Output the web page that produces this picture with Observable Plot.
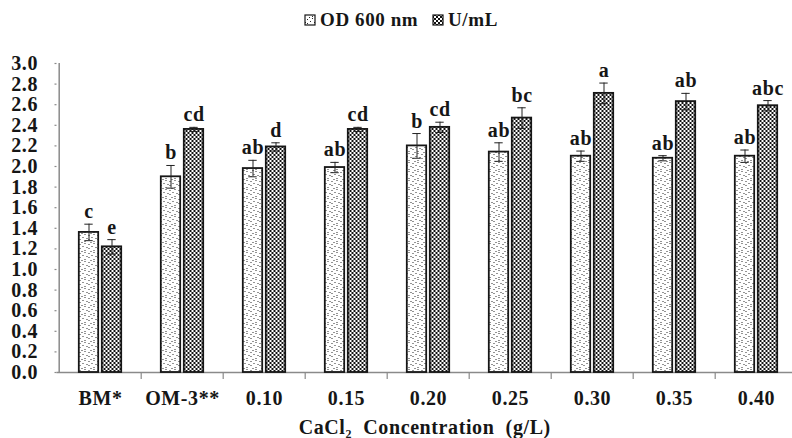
<!DOCTYPE html>
<html>
<head>
<meta charset="utf-8">
<script src="https://cdn.jsdelivr.net/npm/d3@7"></script>
<script src="https://cdn.jsdelivr.net/npm/@observablehq/plot@0.6"></script>
<style>
  html, body { margin: 0; padding: 0; background: #fff; }
  #chart { width: 792px; height: 438px; }
</style>
</head>
<body>
<div id="chart"></div>
<script>
const categories = ["BM*", "OM-3**", "0.10", "0.15", "0.20", "0.25", "0.30", "0.35", "0.40"];
const seriesNames = ["OD 600 nm", "U/mL"];
const odValues = [1.36, 1.90, 1.98, 1.99, 2.20, 2.14, 2.10, 2.08, 2.10];
const odErrors = [0.08, 0.11, 0.08, 0.05, 0.12, 0.09, 0.05, 0.025, 0.06];
const odLetters = ["c", "b", "ab", "ab", "b", "ab", "ab", "ab", "ab"];
const uValues = [1.22, 2.36, 2.19, 2.36, 2.38, 2.47, 2.71, 2.63, 2.59];
const uErrors = [0.07, 0.02, 0.04, 0.02, 0.05, 0.10, 0.10, 0.08, 0.05];
const uLetters = ["e", "cd", "d", "cd", "cd", "bc", "a", "ab", "abc"];
const yTicks = [0, 0.2, 0.4, 0.6, 0.8, 1.0, 1.2, 1.4, 1.6, 1.8, 2.0, 2.2, 2.4, 2.6, 2.8, 3.0];

const od = categories.map((c, i) => ({cat: c, v: odValues[i], e: odErrors[i], letter: odLetters[i]}));
const um = categories.map((c, i) => ({cat: c, v: uValues[i], e: uErrors[i], letter: uLetters[i]}));

const W = 792, H = 438;
const xRange = [56.5, 800];
const step = (xRange[1] - xRange[0]) / categories.length;
const barW = 20, gap = 3;
const off = (barW + gap) / 2;
const inset = (step - barW) / 2;
const capInset = (step - 9) / 2;
const fills = ["url(#pat-dots)", "url(#pat-check)"];
const axisGray = "#8a8a8a";
const ink = "#161616";
const font = "'Liberation Serif', 'Times New Roman', serif";

function seriesMarks(data, dx, fill) {
  return [
    Plot.barY(data, {x: "cat", y: "v", fill, stroke: ink, strokeWidth: 1.8, insetLeft: inset, insetRight: inset, dx}),
    Plot.ruleX(data, {x: "cat", y1: d => d.v - d.e, y2: d => d.v + d.e, dx, stroke: "#222", strokeWidth: 1}),
    Plot.tickY(data, {x: "cat", y: d => d.v + d.e, dx, insetLeft: capInset, insetRight: capInset, stroke: "#222", strokeWidth: 1}),
    Plot.tickY(data, {x: "cat", y: d => d.v - d.e, dx, insetLeft: capInset, insetRight: capInset, stroke: "#222", strokeWidth: 1}),
    Plot.text(data, {x: "cat", y: d => d.v + d.e, text: "letter", dx, dy: -6, lineAnchor: "bottom", fontSize: 20, fontWeight: "bold", fill: ink})
  ];
}

const plot = Plot.plot({
  width: W,
  height: H,
  marginTop: 63,
  marginBottom: 66,
  marginLeft: 56.5,
  marginRight: 0,
  style: {fontFamily: font, fontWeight: "bold", fontSize: "20px", color: ink, background: "white", letterSpacing: "0.6px"},
  x: {domain: categories, range: xRange, padding: 0},
  y: {domain: [0, 3], ticks: yTicks},
  marks: [
    Plot.axisY({ticks: yTicks, tickSize: 0, tickPadding: 19, tickFormat: d => d.toFixed(1), label: null, fontSize: 20, fill: ink}),
    Plot.ruleY(yTicks, {y: d => d, stroke: axisGray, strokeWidth: 1.2, insetRight: (xRange[1] - xRange[0]) - 6}),
    Plot.ruleX([categories[0]], {x: d => d, y1: 0, y2: 3, dx: -step / 2, stroke: axisGray, strokeWidth: 1.5}),
    Plot.ruleY([0], {stroke: axisGray, strokeWidth: 1.5}),
    Plot.ruleX(categories.slice(1), {x: d => d, y1: 0, y2: 0, dx: -step / 2, insetBottom: -7, stroke: axisGray, strokeWidth: 1.2}),
    ...seriesMarks(od, -off, fills[0]),
    ...seriesMarks(um, off, fills[1]),
    Plot.axisX({tickSize: 0, tickPadding: 18, fontSize: 20, fill: ink, label: "CaCl₂  Concentration  (g/L)", labelAnchor: "center", labelArrow: "none", labelOffset: 61})
  ]
});

const svg = d3.select(plot);
const defs = svg.insert("defs", ":first-child");
const pd = defs.append("pattern").attr("id", "pat-dots").attr("patternUnits", "userSpaceOnUse").attr("width", 9).attr("height", 9);
pd.append("rect").attr("width", 9).attr("height", 9).attr("fill", "white");
[[1,1],[6,0],[4,3],[8,4],[1,5],[6,7],[3,8]].forEach(([x, y]) => pd.append("rect").attr("x", x).attr("y", y).attr("width", 1).attr("height", 1).attr("fill", "#2a2a2a"));
const pc = defs.append("pattern").attr("id", "pat-check").attr("patternUnits", "userSpaceOnUse").attr("width", 4).attr("height", 4);
pc.append("rect").attr("width", 4).attr("height", 4).attr("fill", "white");
pc.append("rect").attr("width", 2).attr("height", 2).attr("fill", "#111");
pc.append("rect").attr("x", 2).attr("y", 2).attr("width", 2).attr("height", 2).attr("fill", "#111");

// legend
const lg = svg.append("g").attr("font-family", font).attr("font-weight", "bold").attr("font-size", 19).attr("fill", ink).attr("text-anchor", "start");
const items = [{name: seriesNames[0], fill: fills[0], x: 305}, {name: seriesNames[1], fill: fills[1], x: 433}];
items.forEach(it => {
  lg.append("rect").attr("x", it.x).attr("y", 15).attr("width", 10).attr("height", 10).attr("fill", it.fill).attr("stroke", ink).attr("stroke-width", 1.2);
  lg.append("text").attr("x", it.x + 15).attr("y", 26).attr("text-anchor", "start").text(it.name);
});

document.getElementById("chart").appendChild(plot);
</script>
</body>
</html>
